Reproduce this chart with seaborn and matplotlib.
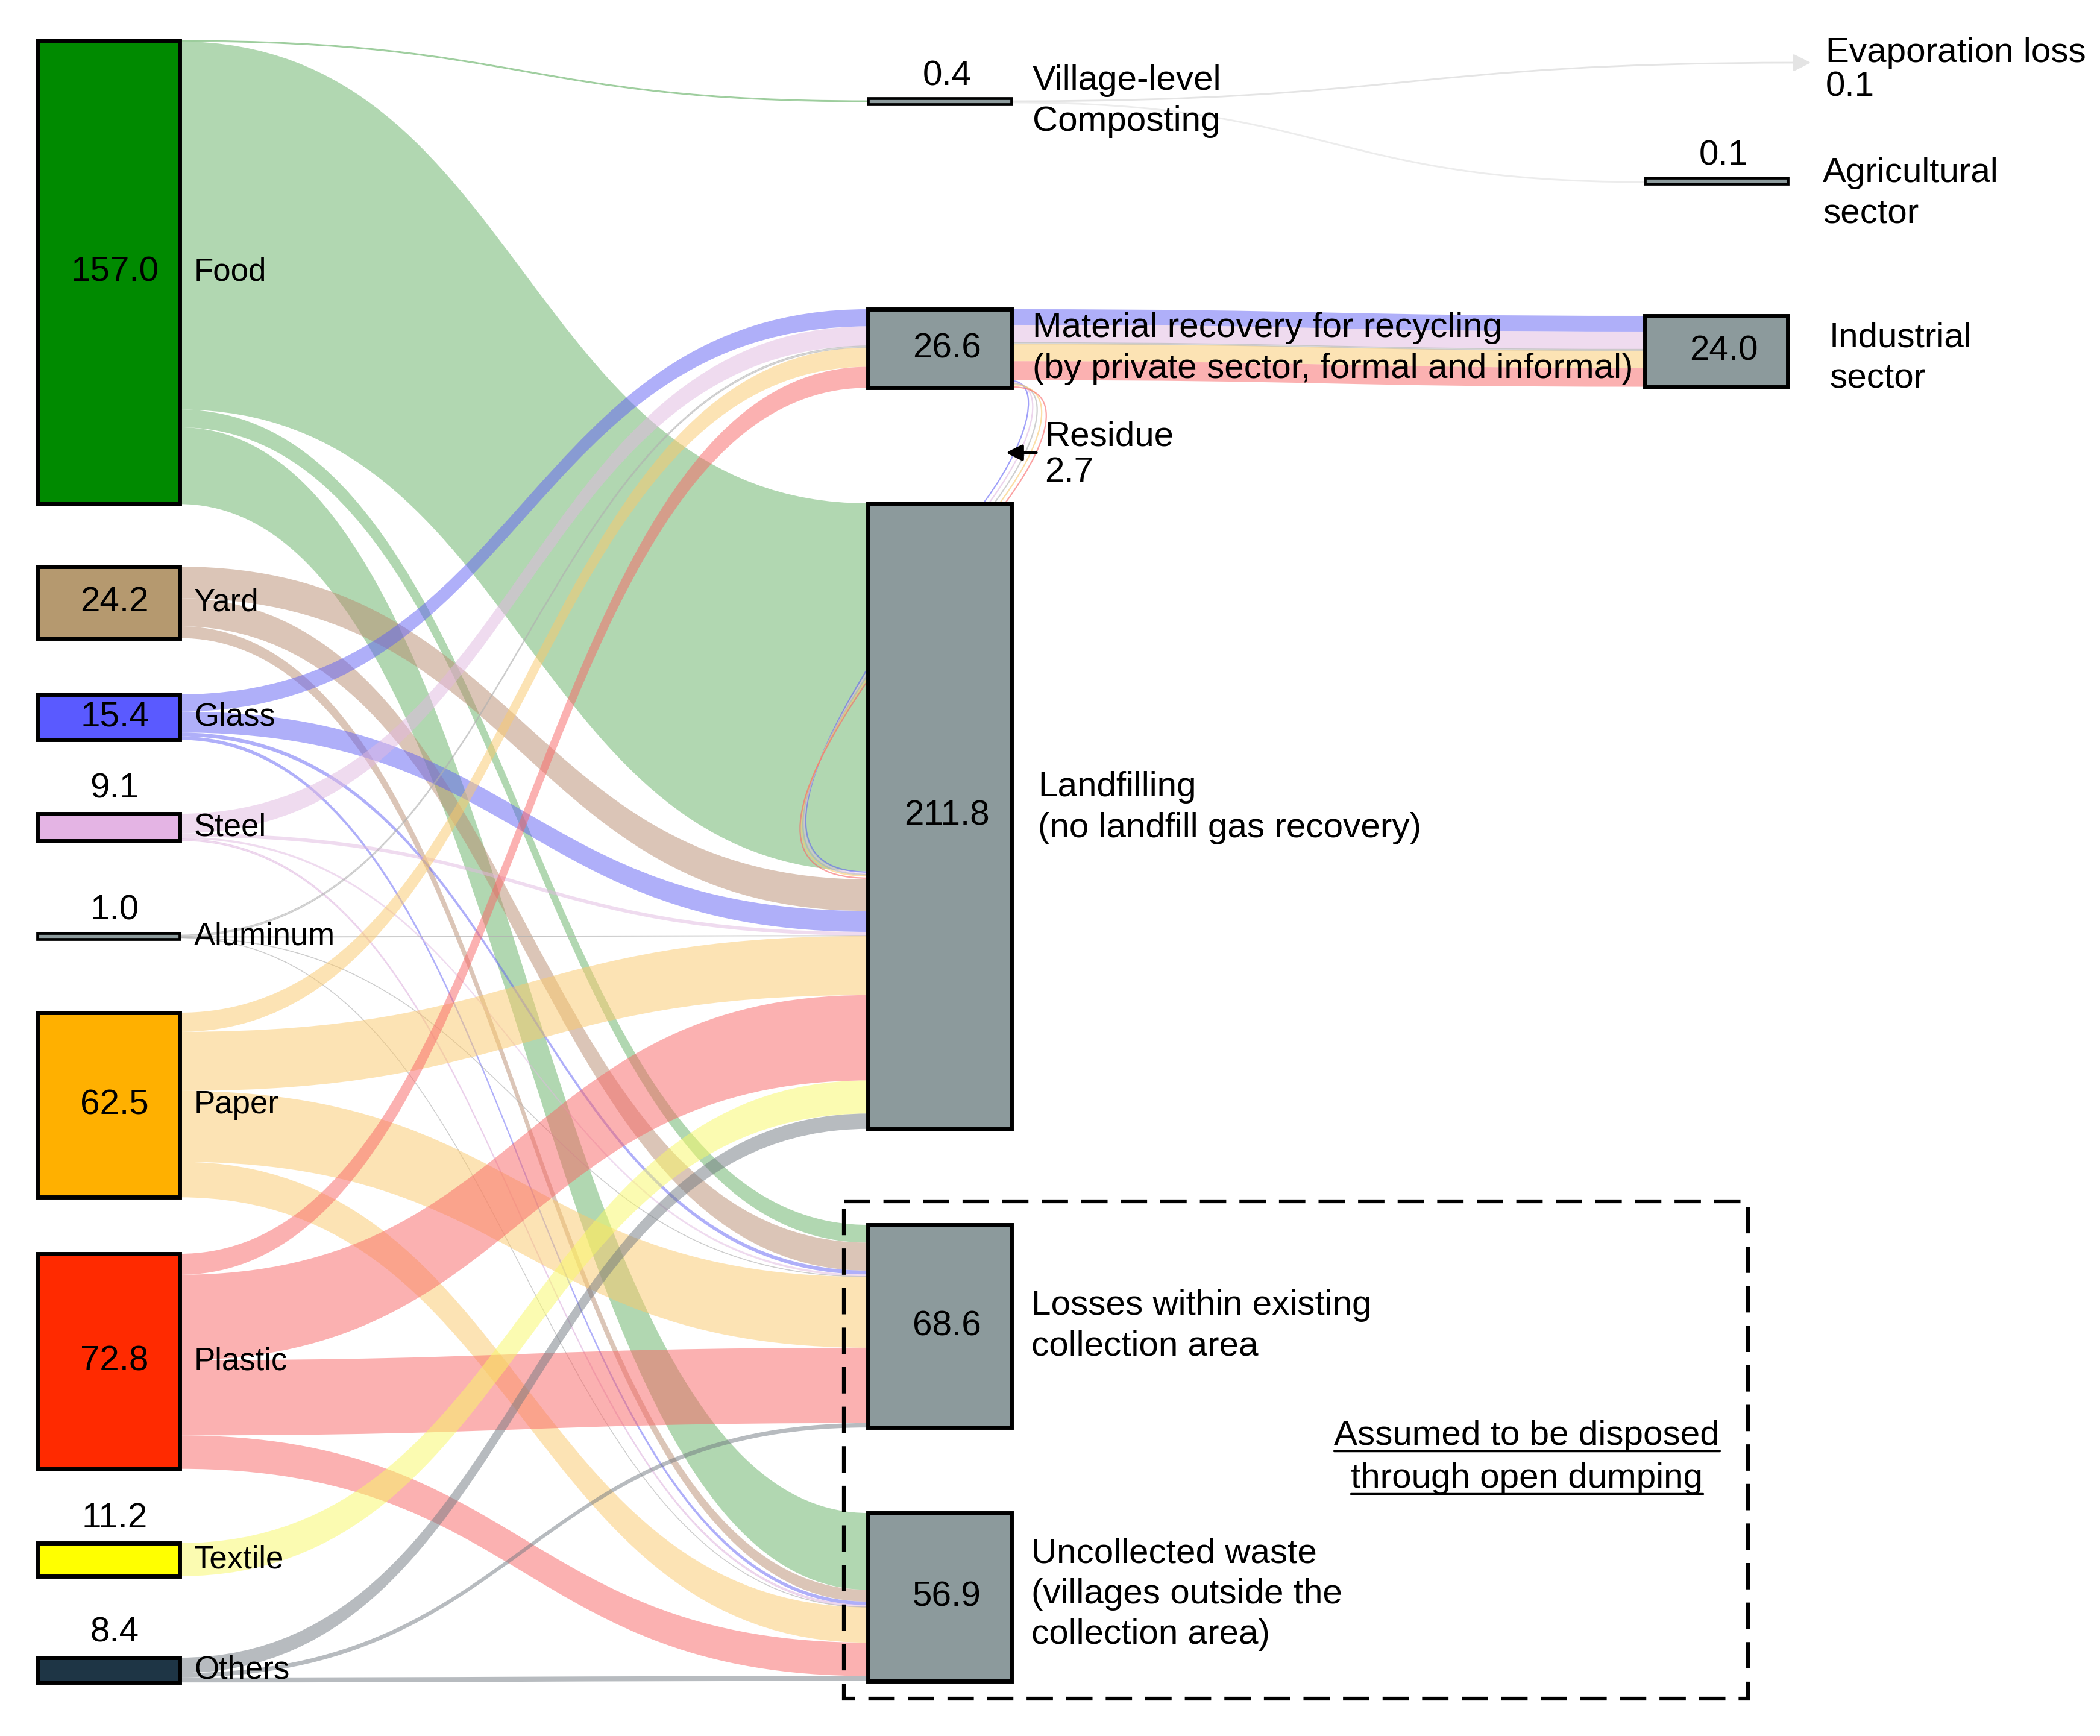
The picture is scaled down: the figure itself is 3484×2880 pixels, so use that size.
import matplotlib
matplotlib.use("Agg")
import matplotlib.pyplot as plt
import seaborn as sns
from matplotlib.path import Path
from matplotlib.patches import PathPatch, Rectangle

sns.set_theme(style="white")
plt.rcParams["font.family"] = ["Liberation Sans", "DejaVu Sans"]
plt.rcParams["text.color"] = "black"

# ---- data (kt/yr) ----
sources = ["Food", "Yard", "Glass", "Steel", "Aluminum", "Paper", "Plastic", "Textile", "Others"]
source_values = [157.0, 24.2, 15.4, 9.1, 1.0, 62.5, 72.8, 11.2, 8.4]

stage_values = [0.4, 26.6, 211.8, 68.6, 56.9]
stage_labels = ["0.4", "26.6", "211.8", "68.6", "56.9"]

# flows from each fraction (same order as sources) into each stage
to_composting = [0.4, 0, 0, 0, 0, 0, 0, 0, 0]
to_recovery = [0, 0, 5.8, 6.6, 0.6, 6.5, 7.1, 0, 0]
to_landfill = [124.6, 10.7, 7.1, 1.2, 0.2, 20.0, 28.9, 11.2, 5.2]
to_losses = [6.0, 9.5, 1.3, 0.7, 0.1, 24.0, 25.5, 0, 1.5]
to_uncollected = [26.0, 4.0, 1.2, 0.6, 0.1, 12.0, 11.3, 0, 1.7]

# material recovery split
recovery_to_industry = [0, 0, 5.3, 6.0, 0.5, 5.8, 6.4, 0, 0]
recovery_residue = [0, 0, 0.5, 0.6, 0.1, 0.7, 0.8, 0, 0]
industry_value = 24.0

# composting outputs
evaporation_value = 0.1
agricultural_value = 0.1

# ---- styles ----
node_colors = ["#008a00", "#b5996f", "#5a5aff", "#e4b4e4", "#8c9a9c",
               "#ffb000", "#ff2a00", "#ffff00", "#1e3545"]
flow_colors = ["#65b165", "#b98d71", "#6161f5", "#e1b9e1", "#b0b0b0",
               "#fbc96b", "#f96565", "#f9f965", "#717981"]
stage_color = "#8c9a9c"

# ---- layout (pixels) ----
W, H = 3484, 2880
K = 4.9  # pixels per kt
src_x = (62, 298)
src_top = [67, 940, 1152, 1350, 1551, 1680, 2080, 2560, 2750]
mid_x = (1440, 1678)
mid_top = [167, 513, 835, 2032, 2510]
end_x = (2729, 2966)
agri_top = 300
ind_top = 524
FS = 42
FS_SRC = 38
LS = 1.32

fig = plt.figure(figsize=(W / 100, H / 100), dpi=100)
ax = fig.add_axes([0, 0, 1, 1])
ax.set_xlim(0, W)
ax.set_ylim(H, 0)
ax.axis("off")


def band(x0, y0, x1, y1, v, color, alpha=0.5, z=1):
    w = v * K
    xm = (x0 + x1) / 2
    verts = [(x0, y0), (xm, y0), (xm, y1), (x1, y1), (x1, y1 + w),
             (xm, y1 + w), (xm, y0 + w), (x0, y0 + w), (x0, y0)]
    codes = [Path.MOVETO, Path.CURVE4, Path.CURVE4, Path.CURVE4, Path.LINETO,
             Path.CURVE4, Path.CURVE4, Path.CURVE4, Path.CLOSEPOLY]
    ax.add_patch(PathPatch(Path(verts, codes), fc=color, ec=color if w < 3 else "none",
                           lw=0.8, alpha=alpha, zorder=z))


def node(x, top, v, color, z=3):
    h = v * K
    lw = 5
    if h < 8:
        # tiny nodes are drawn as a thin framed bar
        top = top + h / 2 - 5
        h = 10
        lw = 3.4
    ax.add_patch(Rectangle((x[0], top), x[1] - x[0], h, fc=color, ec="black", lw=lw,
                           zorder=z))
    return h


flows = [to_composting, to_recovery, to_landfill, to_losses, to_uncollected]
n = len(sources)

# where each flow enters its stage; landfill takes the recovery residue right after food
in_start = {}
residue_start = None
for j in range(len(flows)):
    y = mid_top[j]
    for i in range(n):
        in_start[(i, j)] = y
        y += flows[j][i] * K
        if j == 2 and i == 0:
            residue_start = y
            y += sum(recovery_residue) * K

# source -> stage flows
for i in range(n):
    y = src_top[i]
    for j in range(len(flows)):
        v = flows[j][i]
        if v > 0:
            band(src_x[1], y, mid_x[0], in_start[(i, j)], v, flow_colors[i])
        y += v * K

# recovery -> industry
y = mid_top[1]
yi = ind_top
for i in range(n):
    v = recovery_to_industry[i]
    if v > 0:
        band(mid_x[1], y, end_x[0], yi, v, flow_colors[i])
        y += v * K
        yi += v * K

# recovery residue back into landfill (thin looping lines)
ye = residue_start
k = 0
for i in range(n):
    v = recovery_residue[i]
    if v <= 0:
        continue
    ys = y + v * K / 2
    yend = ye + v * K / 2
    dx = k * 9
    verts = [(mid_x[1], ys), (1725 + dx, ys), (1715 + dx, 720), (1635 + dx, 830),
             (1555 + dx, 940), (1150 - dx, yend), (mid_x[0], yend)]
    codes = [Path.MOVETO] + [Path.CURVE4] * 6
    ax.add_patch(PathPatch(Path(verts, codes), fc="none", ec=flow_colors[i], lw=1.6,
                           alpha=0.6, zorder=1))
    y += v * K
    ye += v * K
    k += 1

# composting -> evaporation / agricultural
cy = mid_top[0]
evap_end = (2985, 104)
verts = [(mid_x[1], cy + 1), ((mid_x[1] + evap_end[0]) / 2, cy + 1),
         ((mid_x[1] + evap_end[0]) / 2, evap_end[1]), evap_end]
ax.add_patch(PathPatch(Path(verts, [Path.MOVETO] + [Path.CURVE4] * 3), fc="none",
                       ec="#e4e4e4", lw=max(evaporation_value * K, 2), zorder=1))
ax.annotate("", xy=(evap_end[0] + 22, evap_end[1]), xytext=evap_end,
            arrowprops=dict(arrowstyle="-|>", color="#e4e4e4", lw=2, mutation_scale=45))
verts = [(mid_x[1], cy + 3), ((mid_x[1] + end_x[0]) / 2, cy + 3),
         ((mid_x[1] + end_x[0]) / 2, agri_top + 2), (end_x[0], agri_top + 2)]
ax.add_patch(PathPatch(Path(verts, [Path.MOVETO] + [Path.CURVE4] * 3), fc="none",
                       ec="#ececec", lw=max(agricultural_value * K, 2), zorder=1))

# ---- nodes ----
for i in range(n):
    h = node(src_x, src_top[i], source_values[i], node_colors[i])
    cx = (src_x[0] + src_x[1]) / 2
    cy_node = src_top[i] + source_values[i] * K / 2
    if source_values[i] >= 15:
        ax.text(cx + 10, cy_node, f"{source_values[i]:.1f}", ha="center",
                va="center", fontsize=FS, zorder=4)
    else:
        ax.text(cx + 10, src_top[i] - 14, f"{source_values[i]:.1f}", ha="center",
                va="bottom", fontsize=FS, zorder=4)
    ax.text(322, cy_node, sources[i], ha="left", va="center",
            fontsize=FS_SRC, zorder=4)

for j in range(len(stage_values)):
    h = node(mid_x, mid_top[j], stage_values[j], stage_color)
    cx = (mid_x[0] + mid_x[1]) / 2 + 12
    if stage_values[j] >= 15:
        ax.text(cx, mid_top[j] + h / 2, stage_labels[j], ha="center", va="center",
                fontsize=FS, zorder=4)
    else:
        ax.text(cx, mid_top[j] - 14, stage_labels[j], ha="center", va="bottom",
                fontsize=FS, zorder=4)

node(end_x, agri_top, agricultural_value, stage_color)
ax.text((end_x[0] + end_x[1]) / 2 + 12, agri_top - 14, f"{agricultural_value:.1f}",
        ha="center", va="bottom", fontsize=FS, zorder=4)
h = node(end_x, ind_top, industry_value, stage_color)
ax.text((end_x[0] + end_x[1]) / 2 + 12, ind_top + h / 2, f"{industry_value:.1f}",
        ha="center", va="center", fontsize=FS, zorder=4)

# ---- labels ----
ax.text(1713, 168, "Village-level\nComposting", ha="left", va="center", fontsize=FS,
        linespacing=LS, zorder=4)
ax.text(1713, 578, "Material recovery for recycling\n(by private sector, formal and informal)",
        ha="left", va="center", fontsize=FS, linespacing=LS, zorder=4)
ax.text(1733, 754, "Residue\n2.7", ha="left", va="center", fontsize=FS, linespacing=1.12,
        zorder=4)
ax.annotate("", xy=(1666, 751), xytext=(1722, 751),
            arrowprops=dict(arrowstyle="-|>", color="black", lw=3.5, mutation_scale=40))
ax.text(1722, 1340, "Landfilling\n(no landfill gas recovery)", ha="left", va="center",
        fontsize=FS, linespacing=LS, zorder=4)
ax.text(1711, 2200, "Losses within existing\ncollection area", ha="left", va="center",
        fontsize=FS, linespacing=LS, zorder=4)
ax.text(1711, 2645, "Uncollected waste\n(villages outside the\ncollection area)", ha="left",
        va="center", fontsize=FS, linespacing=LS, zorder=4)
ax.text(3029, 116, f"Evaporation loss\n{evaporation_value:.1f}", ha="left", va="center",
        fontsize=FS, linespacing=1.05, zorder=4)
ax.text(3024, 321, "Agricultural\nsector", ha="left", va="center", fontsize=FS,
        linespacing=LS, zorder=4)
ax.text(3035, 594, "Industrial\nsector", ha="left", va="center", fontsize=FS,
        linespacing=LS, zorder=4)

under = [ax.text(2533, 2382, "Assumed to be disposed", ha="center", va="center",
                 fontsize=FS, zorder=4),
         ax.text(2533, 2453, "through open dumping", ha="center", va="center",
                 fontsize=FS, zorder=4)]

ax.add_patch(Rectangle((1400, 1993), 1500, 825, fill=False, ec="black", lw=4.5,
                       ls=(0, (7, 3.5)), zorder=5))

fig.canvas.draw()
r = fig.canvas.get_renderer()
inv = ax.transData.inverted()
for t in under:
    bb = t.get_window_extent(renderer=r)
    (x0, y0), (x1, y1) = inv.transform([[bb.x0, bb.y0], [bb.x1, bb.y1]])
    yb = max(y0, y1) - 2
    ax.plot([x0, x1], [yb, yb], color="black", lw=2.5, zorder=4)

fig.savefig("out.png", dpi=100, facecolor="white")
